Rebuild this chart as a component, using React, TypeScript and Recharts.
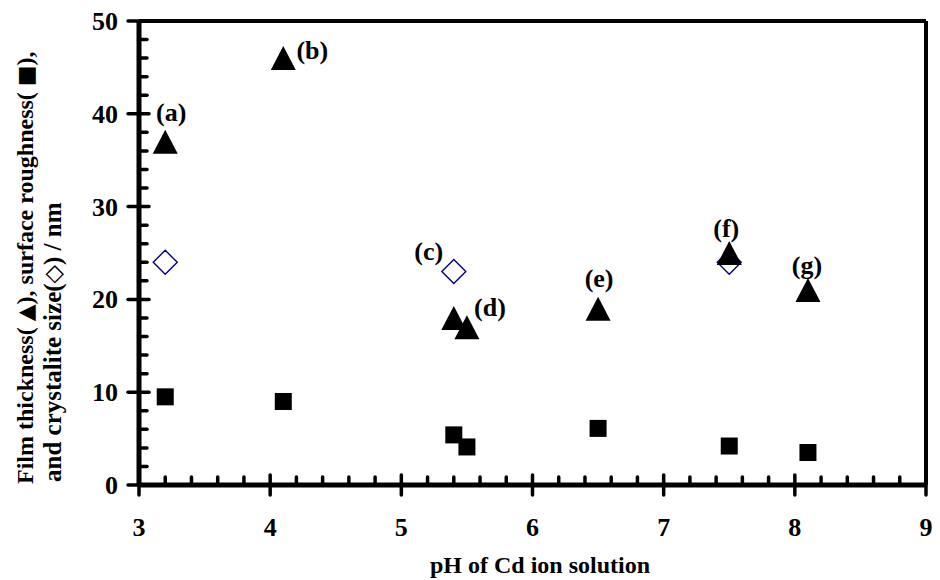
import React from 'react';
import { ScatterChart, Scatter, XAxis, YAxis } from 'recharts';

// pH of the Cd ion solution for each sample
const phValues = [3.2, 4.1, 5.4, 5.5, 6.5, 7.5, 8.1];
const sampleTags = ['(a)', '(b)', '(c)', '(d)', '(e)', '(f)', '(g)'];
// film thickness (triangles) and surface roughness (squares), nm
const filmThickness = [37, 46, 18, 17, 19, 25, 21];
const surfaceRoughness = [9.5, 9.0, 5.4, 4.1, 6.1, 4.2, 3.5];
// crystallite size (open diamonds), nm
const crystalPh = [3.2, 5.4, 7.5];
const crystalliteSize = [24, 23, 24];

const xMajor = [3, 4, 5, 6, 7, 8, 9];
const yMajor = [0, 10, 20, 30, 40, 50];
const xTicks = Array.from({ length: 31 }, (_, i) => Math.round((3 + i * 0.2) * 10) / 10);
const yTicks = Array.from({ length: 26 }, (_, i) => i * 2);

const thicknessData = phValues.map((ph, i) => ({ ph, value: filmThickness[i], tag: sampleTags[i] }));
const roughnessData = phValues.map((ph, i) => ({ ph, value: surfaceRoughness[i] }));
const crystalData = crystalPh.map((ph, i) => ({ ph, value: crystalliteSize[i] }));

// tick marks placed through the chart scales
const xTickData = xTicks.map((v) => ({ ph: v, value: 0 }));
const yTickData = yTicks.map((v) => ({ ph: 3, value: v }));
// corner points used to draw the plot frame
const cornerData = [
  { ph: 3, value: 0, corner: 'bl' },
  { ph: 9, value: 50, corner: 'tr' },
];

// where each (a)..(g) tag sits relative to its triangle
const tagOffsets: Record<string, [number, number]> = {
  '(a)': [6, -30],
  '(b)': [29, -8],
  '(c)': [-25, -67],
  '(d)': [23, -20],
  '(e)': [1, -31],
  '(f)': [-3, -25],
  '(g)': [-1, -25],
};

const FONT = "'Liberation Serif', 'Times New Roman', serif";
const SYM = "'DejaVu Sans', sans-serif";

const PLOT = { left: 139, top: 21, right: 926, bottom: 485 };

const XTickMark = (props: any) => {
  const { cx, cy, payload } = props;
  const major = xMajor.includes(payload.ph);
  return (
    <g>
      <line x1={cx} x2={cx} y1={major ? cy + 10 : cy} y2={cy - (major ? 10 : 8)} stroke="#000" strokeWidth={3.5} strokeLinecap="round" />
      {major && (
        <text x={cx} y={cy + 51} textAnchor="middle" fontFamily={FONT} fontWeight="bold" fontSize={26} fill="#000">
          {payload.ph}
        </text>
      )}
    </g>
  );
};

const YTickMark = (props: any) => {
  const { cx, cy, payload } = props;
  const major = yMajor.includes(payload.value);
  return (
    <g>
      <line x1={major ? cx - 11 : cx} x2={cx + (major ? 10 : 8)} y1={cy} y2={cy} stroke="#000" strokeWidth={3.5} strokeLinecap="round" />
      {major && (
        <text x={cx - 21} y={cy + 9} textAnchor="end" fontFamily={FONT} fontWeight="bold" fontSize={26} fill="#000">
          {payload.value}
        </text>
      )}
    </g>
  );
};

// each corner draws the two frame edges that meet there
const CornerMark = (props: any) => {
  const { cx, cy, payload } = props;
  if (payload.corner === 'bl') {
    return (
      <g>
        <line x1={cx} x2={PLOT.right} y1={cy} y2={cy} stroke="#000" strokeWidth={5} />
        <line x1={cx} x2={cx} y1={cy} y2={PLOT.top} stroke="#000" strokeWidth={5} />
      </g>
    );
  }
  return (
    <g>
      <line x1={cx} x2={PLOT.left} y1={cy} y2={cy} stroke="#000" strokeWidth={4} />
      <line x1={cx} x2={cx} y1={cy} y2={PLOT.bottom} stroke="#000" strokeWidth={4} />
    </g>
  );
};

const Triangle = (props: any) => {
  const { cx, cy, payload } = props;
  const off = tagOffsets[payload.tag] || [0, -30];
  return (
    <g>
      <polygon points={`${cx},${cy - 12} ${cx - 12.5},${cy + 12} ${cx + 12.5},${cy + 12}`} fill="#000" />
      <text x={cx + off[0]} y={cy + off[1] + 9} textAnchor="middle" fontFamily={FONT} fontWeight="bold" fontSize={26} fill="#000">
        {payload.tag}
      </text>
    </g>
  );
};

const Square = (props: any) => {
  const { cx, cy } = props;
  return <rect x={cx - 8.5} y={cy - 8.5} width={17} height={17} fill="#000" />;
};

const Diamond = (props: any) => {
  const { cx, cy } = props;
  return (
    <polygon
      points={`${cx},${cy - 12} ${cx + 12},${cy} ${cx},${cy + 12} ${cx - 12},${cy}`}
      fill="#fff"
      stroke="#000080"
      strokeWidth={1.4}
    />
  );
};

export default function App() {
  return (
    <div style={{ position: 'relative', width: 940, height: 580 }}>
      <style>{'body{margin:0}'}</style>
      <ScatterChart
        width={940}
        height={580}
        margin={{ top: PLOT.top, right: 940 - PLOT.right, bottom: 580 - PLOT.bottom, left: PLOT.left }}
      >
        <XAxis dataKey="ph" type="number" domain={[3, 9]} hide />
        <YAxis dataKey="value" type="number" domain={[0, 50]} hide />
        <Scatter data={cornerData} shape={<CornerMark />} isAnimationActive={false} />
        <Scatter data={xTickData} shape={<XTickMark />} isAnimationActive={false} />
        <Scatter data={yTickData} shape={<YTickMark />} isAnimationActive={false} />
        <Scatter data={crystalData} shape={<Diamond />} isAnimationActive={false} />
        <Scatter data={thicknessData} shape={<Triangle />} isAnimationActive={false} />
        <Scatter data={roughnessData} shape={<Square />} isAnimationActive={false} />
      </ScatterChart>
      <svg width={940} height={580} style={{ position: 'absolute', left: 0, top: 0, pointerEvents: 'none' }}>
        <g fontFamily={FONT} fontWeight="bold" fill="#000">
          <text x={540} y={573} textAnchor="middle" fontSize={24}>pH of Cd ion solution</text>
          <text x={33} y={484} transform="rotate(-90, 33, 484)" textAnchor="start" fontSize={24}>
            Film thickness( <tspan fontFamily={SYM} fontSize={22}>▲</tspan>), surface roughness( <tspan fontFamily={SYM} fontSize={22}>■</tspan>),
          </text>
          <text x={61} y={482} transform="rotate(-90, 61, 482)" textAnchor="start" fontSize={25}>
            and crystalite size(<tspan fontFamily={SYM} fontSize={24}>◇</tspan>) / nm
          </text>
        </g>
      </svg>
    </div>
  );
}
